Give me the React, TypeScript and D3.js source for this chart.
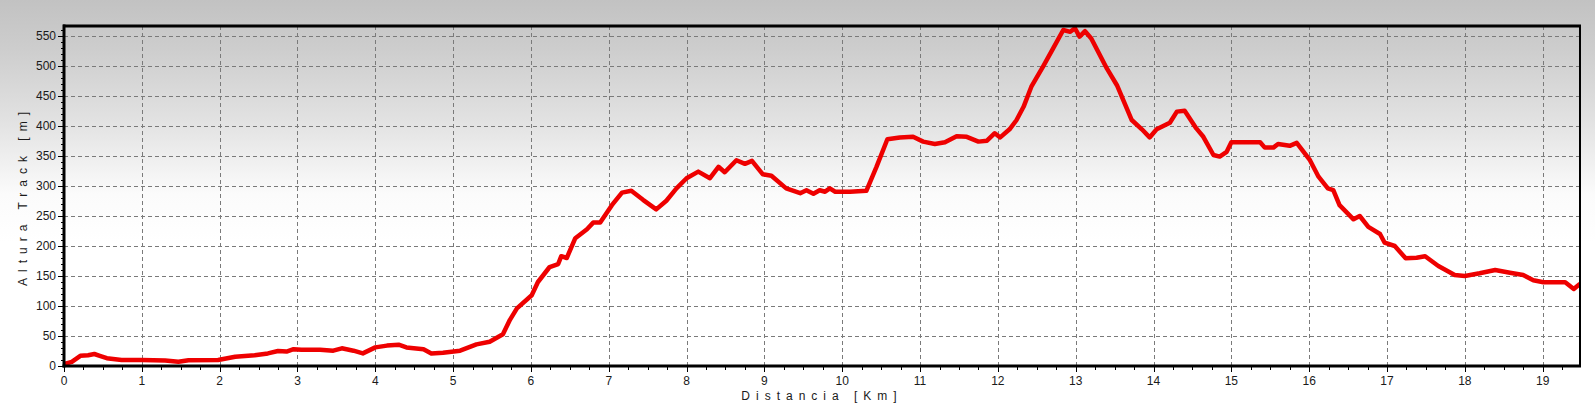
import React from "react";
import * as d3 from "d3";

const distKm = [
  0, 0.1, 0.21, 0.31, 0.39, 0.46, 0.55, 0.74, 1.0, 1.3, 1.47, 1.6, 1.98, 2.2, 2.45, 2.62, 2.75, 2.86, 2.95, 3.05,
  3.29, 3.46, 3.57, 3.72, 3.84, 4.0, 4.15, 4.3, 4.4, 4.62, 4.72, 4.87, 5.09, 5.3, 5.47, 5.64, 5.73, 5.82, 6.01, 6.09,
  6.24, 6.35, 6.39, 6.46, 6.57, 6.72, 6.8, 6.89, 7.04, 7.17, 7.29, 7.44, 7.61, 7.74, 7.87, 8.0, 8.15, 8.3, 8.41, 8.49,
  8.64, 8.75, 8.84, 8.98, 9.09, 9.28, 9.46, 9.54, 9.63, 9.71, 9.78, 9.84, 9.91, 10.1, 10.31, 10.44, 10.58, 10.74, 10.91, 11.04,
  11.19, 11.32, 11.47, 11.6, 11.75, 11.86, 11.96, 12.03, 12.15, 12.24, 12.33, 12.43, 12.58, 12.71, 12.84, 12.93, 12.99, 13.05, 13.12, 13.2,
  13.4, 13.53, 13.72, 13.85, 13.95, 14.04, 14.21, 14.3, 14.4, 14.55, 14.64, 14.77, 14.85, 14.94, 15.0, 15.37, 15.43, 15.54, 15.6, 15.75,
  15.84, 16.01, 16.12, 16.24, 16.31, 16.39, 16.57, 16.65, 16.76, 16.91, 16.97, 17.1, 17.24, 17.38, 17.49, 17.66, 17.87, 18.0, 18.19, 18.39,
  18.58, 18.75, 18.88, 19.01, 19.29, 19.4, 19.47,
];

const altitudeM = [
  3, 7, 17, 18, 20, 17, 13, 10, 10, 9, 7, 9.5, 10, 15.5, 18, 21, 25, 24, 28, 27,
  27, 25.5, 29.5, 25.5, 21, 31, 34, 35.5, 31, 28, 21, 22, 25.5, 36, 40.5, 53, 77, 96, 118, 140,
  165, 170, 183, 180, 213, 228, 239, 239, 268, 289, 292, 277, 261, 275.5, 296, 313, 324, 313, 332, 323,
  343, 337, 342, 319.5, 317, 296, 288, 293, 287, 293, 290.5, 296, 290.5, 290.5, 292, 332, 378, 381, 382, 374,
  370, 373, 383, 382, 374, 375.5, 388, 381, 394.5, 410, 432, 465.5, 499, 529.5, 560, 557, 563, 549, 558, 546,
  496, 468, 410, 394.5, 381, 394.5, 405.5, 424, 425.5, 396, 382, 351.7, 349, 357, 373, 373, 364, 364, 370, 367,
  372, 343, 315.5, 296, 293, 268, 244.5, 250, 232, 220, 205.5, 200, 179.5, 180.5, 183, 166.7, 151.7, 150, 154.5, 160,
  155.5, 151.7, 143, 139.5, 139.5, 128.3, 136,
];

const xTicks = d3.range(0, 20, 1);
const yTicks = d3.range(0, 551, 50);
const xLabel = "Distancia [Km]";
const yLabel = "Altura Track [m]";

const W = 1595;
const H = 405;

export default function App() {
  const x = d3.scaleLinear().domain([0, 19.48]).range([64, 1580]);
  const y = d3.scaleLinear().domain([0, 566.7]).range([366, 26]);
  const data = distKm.map((d, i) => [d, altitudeM[i]] as [number, number]);
  const line = d3
    .line<[number, number]>()
    .x((d) => x(d[0]))
    .y((d) => y(d[1]))
    .curve(d3.curveLinear);
  const xMinor = d3.range(0, 19.48, 0.25).filter((v) => Math.abs(v - Math.round(v)) > 1e-6);
  const yMinor = d3.range(0, 566, 10).filter((v) => v % 50 !== 0);
  const x0 = x.range()[0];
  const x1 = x.range()[1];
  const yb = y.range()[0];
  const yt = y.range()[1];
  const font = "'Liberation Sans', Arial, sans-serif";

  return (
    <div style={{ position: "absolute", left: 0, top: 0, width: W, height: H }}>
      <svg width={W} height={H} style={{ display: "block" }}>
        <defs>
          <linearGradient id="bg" x1="0" y1="0" x2="0" y2="1">
            <stop offset="0" stopColor="#c2c2c2" />
            <stop offset="0.12" stopColor="#cdcdcd" />
            <stop offset="0.3" stopColor="#e2e2e2" />
            <stop offset="0.48" stopColor="#fbfbfb" />
            <stop offset="0.6" stopColor="#ffffff" />
            <stop offset="1" stopColor="#ffffff" />
          </linearGradient>
          <clipPath id="plotclip">
            <rect x={x0} y={yt - 4} width={x1 - x0} height={yb - yt + 4} />
          </clipPath>
        </defs>
        <rect x={0} y={0} width={W} height={H} fill="url(#bg)" />

        {/* grid */}
        <g stroke="#7a7a7a" strokeWidth={1} strokeDasharray="4,3" shapeRendering="crispEdges">
          {xTicks.filter((t) => t > 0).map((t) => (
            <line key={"gx" + t} x1={Math.round(x(t)) + 0.5} x2={Math.round(x(t)) + 0.5} y1={yt} y2={yb} />
          ))}
          {yTicks.filter((t) => t > 0).map((t) => (
            <line key={"gy" + t} x1={x0} x2={x1} y1={Math.round(y(t)) + 0.5} y2={Math.round(y(t)) + 0.5} />
          ))}
        </g>

        {/* profile line */}
        <path
          d={line(data) || ""}
          fill="none"
          stroke="#ee0000"
          strokeWidth={4.5}
          strokeLinejoin="round"
          strokeLinecap="round"
          clipPath="url(#plotclip)"
        />

        {/* ticks */}
        <g stroke="#000" strokeWidth={1} shapeRendering="crispEdges">
          {xTicks.map((t) => (
            <line key={"tx" + t} x1={Math.round(x(t)) + 0.5} x2={Math.round(x(t)) + 0.5} y1={yb} y2={yb + 6} />
          ))}
          {xMinor.map((t) => (
            <line key={"mx" + t} x1={Math.round(x(t)) + 0.5} x2={Math.round(x(t)) + 0.5} y1={yb} y2={yb + 4} />
          ))}
          {yTicks.map((t) => (
            <line key={"ty" + t} x1={x0 - 6} x2={x0} y1={Math.round(y(t)) + 0.5} y2={Math.round(y(t)) + 0.5} />
          ))}
          {yMinor.map((t) => (
            <line key={"my" + t} x1={x0 - 3} x2={x0} y1={Math.round(y(t)) + 0.5} y2={Math.round(y(t)) + 0.5} />
          ))}
        </g>

        {/* frame */}
        <g stroke="#000" fill="none">
          <line x1={x0 - 1} x2={x1 + 1} y1={yt} y2={yt} strokeWidth={3} />
          <line x1={x0} x2={x0} y1={yt - 1.5} y2={yb + 1.5} strokeWidth={3} />
          <line x1={x0 - 1.5} x2={x1 + 1} y1={yb} y2={yb} strokeWidth={3} />
          <line x1={x1} x2={x1} y1={yt} y2={yb} strokeWidth={2} />
        </g>

        {/* tick labels */}
        <g fontFamily={font} fontSize={12} fill="#1a1a1a">
          {xTicks.map((t) => (
            <text key={"lx" + t} x={x(t)} y={yb + 19} textAnchor="middle">
              {t}
            </text>
          ))}
          {yTicks.map((t) => (
            <text key={"ly" + t} x={x0 - 8} y={y(t) + 4} textAnchor="end">
              {t}
            </text>
          ))}
        </g>

        {/* axis titles */}
        <text
          x={(x0 + x1) / 2}
          y={400}
          textAnchor="middle"
          fontFamily={font}
          fontSize={12}
          letterSpacing={6}
          fill="#1a1a1a"
        >
          {xLabel}
        </text>
        <text
          transform={`translate(27, ${(yt + yb) / 2}) rotate(-90)`}
          textAnchor="middle"
          fontFamily={font}
          fontSize={12}
          letterSpacing={6}
          fill="#1a1a1a"
        >
          {yLabel}
        </text>
      </svg>
    </div>
  );
}
